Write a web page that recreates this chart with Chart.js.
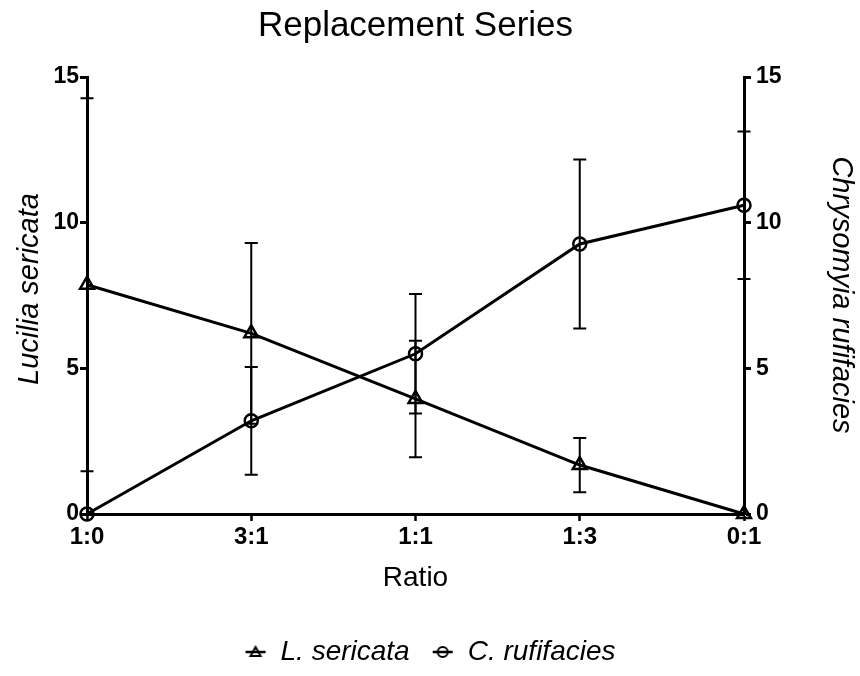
<!DOCTYPE html>
<html>
<head>
<meta charset="utf-8">
<script src="https://cdn.jsdelivr.net/npm/chart.js@4/dist/chart.umd.min.js"></script>
<style>
  html, body { margin: 0; padding: 0; background: #fff; }
  #wrap { width: 860px; height: 676px; }
</style>
</head>
<body>
<div id="wrap"><canvas id="grafico" width="860" height="676"></canvas></div>
<script>
// datos
const ratios = ['1:0', '3:1', '1:1', '1:3', '0:1'];
const sericataMedia = [7.87, 6.2, 3.95, 1.68, 0];
const sericataError = [6.4, 3.1, 2.0, 0.93, 0];
const rufifaciesMedia = [0, 3.2, 5.5, 9.27, 10.6];
const rufifaciesError = [0, 1.85, 2.05, 2.9, 2.53];
const ticksY = [0, 5, 10, 15];

const FUENTE = '"Liberation Sans", Arial, Helvetica, sans-serif';

// iconos de la leyenda: linea con marcador hueco
function iconoLeyenda(tipo) {
    const c = document.createElement('canvas');
    c.width = 22; c.height = 14;
    const g = c.getContext('2d');
    g.strokeStyle = '#000';
    g.lineWidth = 2.5;
    g.beginPath(); g.moveTo(1, 7); g.lineTo(21, 7); g.stroke();
    g.lineWidth = 2;
    g.beginPath();
    if (tipo === 'triangle') {
        g.moveTo(11, 2); g.lineTo(16, 11); g.lineTo(6, 11); g.closePath();
    } else {
        g.arc(11, 7, 5, 0, Math.PI * 2);
    }
    g.stroke();
    return c;
}

// barras de error dibujadas con las escalas del grafico
const barrasError = {
    id: 'barrasError',
    afterDatasetsDraw(chart) {
        const ctx = chart.ctx;
        chart.data.datasets.forEach((ds, i) => {
            const meta = chart.getDatasetMeta(i);
            const escala = chart.scales[ds.yAxisID];
            ds.errores.forEach((e, j) => {
                if (!e) return;
                const x = meta.data[j].x;
                const arriba = escala.getPixelForValue(ds.data[j] + e);
                const abajo = escala.getPixelForValue(ds.data[j] - e);
                ctx.save();
                ctx.strokeStyle = '#000';
                ctx.lineWidth = 2;
                ctx.beginPath();
                ctx.moveTo(x, arriba); ctx.lineTo(x, abajo);
                ctx.moveTo(x - 6.5, arriba); ctx.lineTo(x + 6.5, arriba);
                ctx.moveTo(x - 6.5, abajo); ctx.lineTo(x + 6.5, abajo);
                ctx.stroke();
                ctx.restore();
            });
        });
    }
};

// titulo general y titulos de los ejes Y (posicion como en la figura original)
const textos = {
    id: 'textos',
    afterDraw(chart) {
        const ctx = chart.ctx;
        const area = chart.chartArea;
        ctx.save();
        ctx.fillStyle = '#000';
        ctx.textAlign = 'center';
        ctx.textBaseline = 'middle';
        ctx.font = 'normal 35px ' + FUENTE;
        ctx.fillText('Replacement Series', (area.left + area.right) / 2, 26);

        ctx.font = 'italic 29px ' + FUENTE;
        ctx.save();
        ctx.translate(30, 289);
        ctx.rotate(-Math.PI / 2);
        ctx.fillText('Lucilia sericata', 0, 0);
        ctx.restore();

        ctx.save();
        ctx.translate(841, 295);
        ctx.rotate(Math.PI / 2);
        ctx.fillText('Chrysomyia rufifacies', 0, 0);
        ctx.restore();
        ctx.restore();
    }
};

const ejeY = (posicion, ancho, relleno) => ({
    type: 'linear',
    position: posicion,
    min: 0,
    max: 15,
    afterBuildTicks: (s) => { s.ticks = ticksY.map(v => ({ value: v })); },
    afterFit: (s) => { s.width = ancho; },
    ticks: {
        color: '#000',
        padding: relleno,
        font: { family: FUENTE, size: 23, weight: 'bold' }
    },
    grid: {
        display: true,
        drawOnChartArea: false,
        drawTicks: true,
        tickLength: 7,
        tickWidth: 3,
        color: '#000'
    },
    border: { display: true, color: '#000', width: 3 },
    title: { display: false }
});

new Chart(document.getElementById('grafico'), {
    type: 'line',
    data: {
        labels: ratios,
        datasets: [{
            label: 'L. sericata',
            data: sericataMedia,
            errores: sericataError,
            yAxisID: 'y',
            borderColor: '#000',
            borderWidth: 3,
            pointStyle: 'triangle',
            pointRadius: 8,
            pointBorderWidth: 2.5,
            pointBackgroundColor: 'rgba(0,0,0,0)',
            pointBorderColor: '#000',
            tension: 0,
            clip: false,
            icono: iconoLeyenda('triangle')
        }, {
            label: 'C. rufifacies',
            data: rufifaciesMedia,
            errores: rufifaciesError,
            yAxisID: 'y2',
            borderColor: '#000',
            borderWidth: 3,
            pointStyle: 'circle',
            pointRadius: 6.5,
            pointBorderWidth: 2.5,
            pointBackgroundColor: 'rgba(0,0,0,0)',
            pointBorderColor: '#000',
            tension: 0,
            clip: false,
            icono: iconoLeyenda('circle')
        }]
    },
    options: {
        responsive: false,
        animation: false,
        events: [],
        layout: { padding: { left: 0, right: 0, top: 77, bottom: 0 } },
        plugins: {
            tooltip: { enabled: false },
            title: { display: false },
            legend: {
                position: 'bottom',
                labels: {
                    color: '#000',
                    usePointStyle: true,
                    pointStyleWidth: 22,
                    padding: 22,
                    font: { family: FUENTE, size: 28, style: 'italic' },
                    generateLabels: (chart) => chart.data.datasets.map((ds, i) => ({
                        text: ds.label,
                        pointStyle: ds.icono,
                        fillStyle: 'rgba(0,0,0,0)',
                        strokeStyle: '#000',
                        lineWidth: 0,
                        fontColor: '#000',
                        datasetIndex: i
                    }))
                }
            }
        },
        scales: {
            x: {
                type: 'category',
                offset: false,
                afterFit: (s) => { s.height = 102; },
                ticks: {
                    color: '#000',
                    padding: 2,
                    maxRotation: 0,
                    autoSkip: false,
                    font: { family: FUENTE, size: 24, weight: 'bold' }
                },
                grid: {
                    display: true,
                    drawOnChartArea: false,
                    drawTicks: true,
                    tickLength: 7,
                    tickWidth: 2.5,
                    color: '#000'
                },
                border: { display: true, color: '#000', width: 3 },
                title: {
                    display: true,
                    text: 'Ratio',
                    color: '#000',
                    padding: { top: 4, bottom: 21 },
                    font: { family: FUENTE, size: 28 }
                }
            },
            y: ejeY('left', 87, 1),
            y2: ejeY('right', 116, 5)
        }
    },
    plugins: [barrasError, textos]
});
</script>
</body>
</html>
